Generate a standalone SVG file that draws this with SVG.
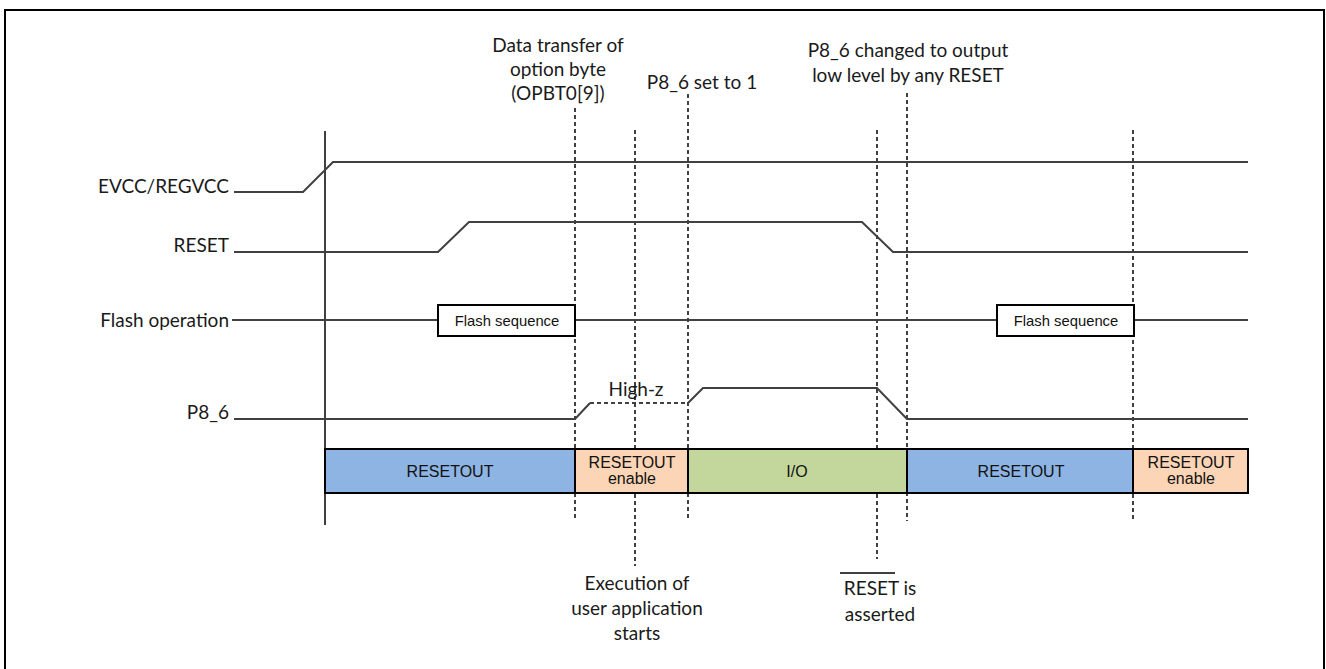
<svg xmlns="http://www.w3.org/2000/svg" width="1326" height="669" viewBox="0 0 1326 669">
<style>
.sig{fill:none;stroke:#404040;stroke-width:2;stroke-linejoin:miter}
.dot{fill:none;stroke:#404040;stroke-width:2;stroke-dasharray:4 3}
.lbl{font-family:Lato,"Open Sans",sans-serif;font-size:19px;fill:#1a1a1a}
.ar{font-family:"Liberation Sans",Arial,sans-serif;font-size:16px;fill:#111}
.fs{font-family:"Liberation Sans",Arial,sans-serif;font-size:14.8px;fill:#111}
.bar{stroke:#000;stroke-width:2}
.box{fill:#fff;stroke:#000;stroke-width:2}
</style>
<rect x="5" y="10" width="1319" height="680" fill="#fff" stroke="#000" stroke-width="2"/>

<g id="connectors">
  <line class="sig" x1="325" y1="131" x2="325" y2="525"/>
  <line class="dot" x1="575" y1="108" x2="575" y2="521"/>
  <line class="dot" x1="635" y1="130" x2="635" y2="566"/>
  <line class="dot" x1="688" y1="94" x2="688" y2="521"/>
  <line class="dot" x1="877" y1="130" x2="877" y2="559"/>
  <line class="dot" x1="907" y1="93" x2="907" y2="521"/>
  <line class="dot" x1="1133" y1="130" x2="1133" y2="521"/>
</g>

<g id="sig-evcc">
  <text class="lbl" x="229" y="193" text-anchor="end">EVCC/REGVCC</text>
  <polyline class="sig" points="234,192 303,192 333,162 1248,162"/>
</g>
<g id="sig-reset">
  <text class="lbl" x="229" y="252" text-anchor="end">RESET</text>
  <polyline class="sig" points="234,252 438,252 469,222 862,222 893,252 1248,252"/>
</g>
<g id="sig-flash">
  <text class="lbl" x="229" y="327" text-anchor="end">Flash operation</text>
  <line class="sig" x1="232" y1="320" x2="438" y2="320"/>
  <line class="sig" x1="575" y1="320" x2="997" y2="320"/>
  <line class="sig" x1="1134" y1="320" x2="1248" y2="320"/>
</g>
<g id="flash-seq-1">
  <rect class="box" x="438" y="305" width="137" height="31"/>
  <text class="fs" x="507" y="326" text-anchor="middle">Flash sequence</text>
</g>
<g id="flash-seq-2">
  <rect class="box" x="997" y="305" width="137" height="31"/>
  <text class="fs" x="1066" y="326" text-anchor="middle">Flash sequence</text>
</g>
<g id="sig-p86">
  <text class="lbl" x="229" y="419" text-anchor="end">P8_6</text>
  <polyline class="sig" points="234,419 575,419 590,403"/>
  <line class="dot" x1="590" y1="403" x2="688" y2="403"/>
  <polyline class="sig" points="688,403 703,388 877,388 907,419 1248,419"/>
  <text class="lbl" x="636" y="396" text-anchor="middle">High-z</text>
</g>

<g id="bar-resetout-1">
  <rect class="bar" x="325" y="449" width="250" height="44" fill="#8eb4e3"/>
  <text class="ar" x="450" y="477" text-anchor="middle">RESETOUT</text>
</g>
<g id="bar-enable-1">
  <rect class="bar" x="575" y="449" width="113" height="44" fill="#fbd5b5"/>
  <text class="ar" x="632" y="468" text-anchor="middle">RESETOUT</text>
  <text class="ar" x="632" y="484" text-anchor="middle">enable</text>
</g>
<g id="bar-io">
  <rect class="bar" x="688" y="449" width="219" height="44" fill="#c3d69b"/>
  <text class="ar" x="797" y="477" text-anchor="middle">I/O</text>
</g>
<g id="bar-resetout-2">
  <rect class="bar" x="907" y="449" width="226" height="44" fill="#8eb4e3"/>
  <text class="ar" x="1021" y="477" text-anchor="middle">RESETOUT</text>
</g>
<g id="bar-enable-2">
  <rect class="bar" x="1133" y="449" width="115" height="44" fill="#fbd5b5"/>
  <text class="ar" x="1191" y="468" text-anchor="middle">RESETOUT</text>
  <text class="ar" x="1191" y="484" text-anchor="middle">enable</text>
</g>

<g id="note-opbt">
  <text class="lbl" x="558" y="52" text-anchor="middle">Data transfer of</text>
  <text class="lbl" x="558" y="76" text-anchor="middle">option byte</text>
  <text class="lbl" x="558" y="100" text-anchor="middle">(OPBT0[9])</text>
</g>
<g id="note-set1">
  <text class="lbl" x="702" y="89" text-anchor="middle">P8_6 set to 1</text>
</g>
<g id="note-changed">
  <text class="lbl" x="908" y="57" text-anchor="middle">P8_6 changed to output</text>
  <text class="lbl" x="908" y="82" text-anchor="middle">low level by any RESET</text>
</g>
<g id="note-exec">
  <text class="lbl" x="637" y="590" text-anchor="middle">Execution of</text>
  <text class="lbl" x="637" y="615" text-anchor="middle">user application</text>
  <text class="lbl" x="637" y="640" text-anchor="middle">starts</text>
</g>
<g id="note-reset-asserted">
  <line x1="840" y1="573" x2="895" y2="573" stroke="#404040" stroke-width="2"/>
  <text class="lbl" x="880" y="595" text-anchor="middle">RESET is</text>
  <text class="lbl" x="880" y="621" text-anchor="middle">asserted</text>
</g>
</svg>
